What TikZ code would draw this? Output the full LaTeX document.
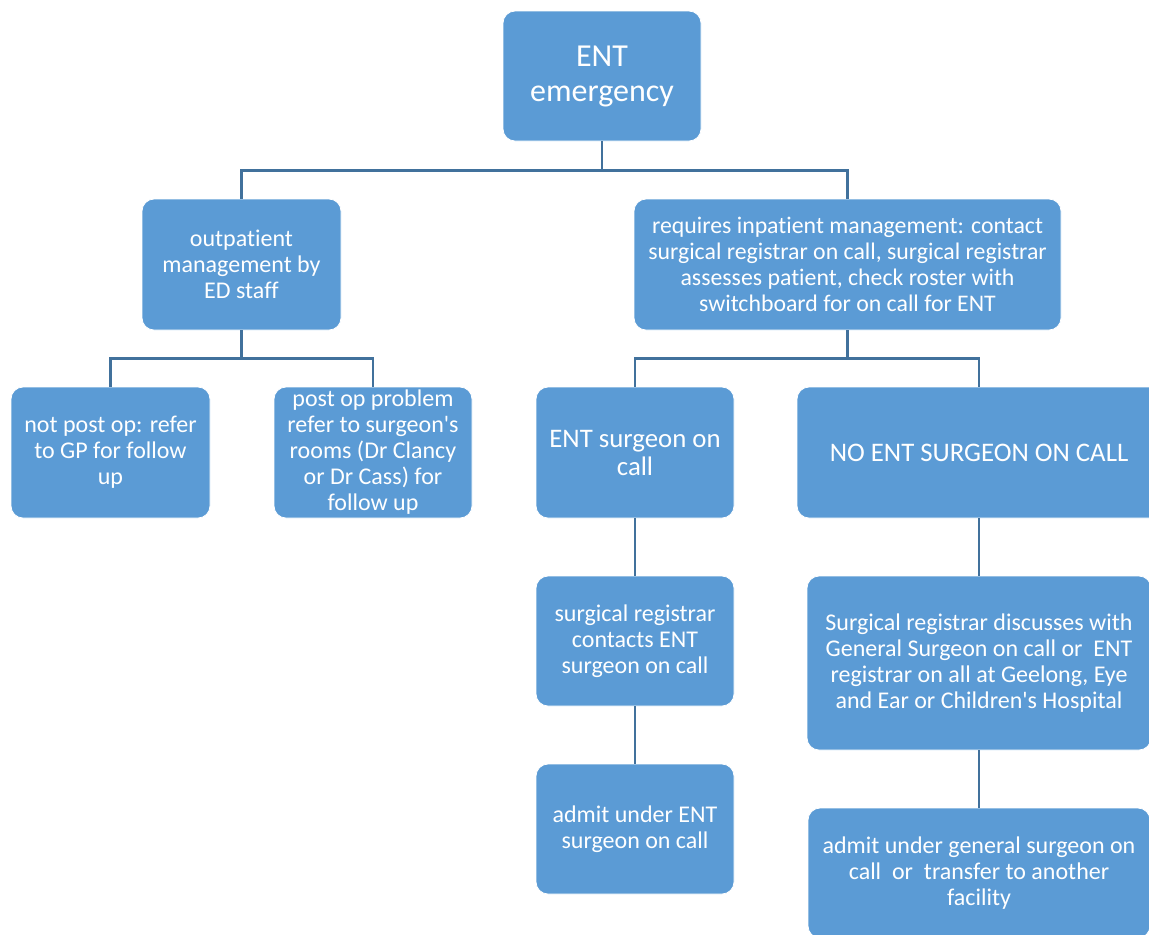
\documentclass[tikz,border=0pt]{standalone}
\usepackage{fontspec}
\setmainfont{Carlito}[Ligatures=NoCommon]
\usetikzlibrary{positioning}
\definecolor{boxblue}{HTML}{5B9BD5}
\definecolor{linkblue}{HTML}{41719C}

\begin{document}
\begin{tikzpicture}[x=0.5pt,y=-0.5pt,semithick]
  \tikzstyle{box}=[rectangle,rounded corners=6pt,fill=boxblue,draw=white,line width=0.4pt,
                   text=white,align=center,inner sep=0pt,font=\fontsize{12}{13}\selectfont]
  \tikzstyle{big}=[font=\fontsize{13.4}{14}\selectfont]
  \tikzstyle{link}=[draw=linkblue,line width=1.4pt]
  \useasboundingbox (0,0) rectangle (1149,934);

  \node[box,minimum width=99pt,minimum height=65pt,font=\fontsize{16}{17.5}\selectfont] (ent) at (602,76) {ENT\\emergency};
  \node[box,minimum width=99.5pt,minimum height=65.5pt] (out) at (241.5,264.5) {outpatient\\management by\\ED staff};
  \node[box,minimum width=213.5pt,minimum height=65.5pt,font=\fontsize{11.9}{13}\selectfont] (inp) at (847.5,264.5)
       {requires inpatient management: contact\\surgical registrar on call, surgical registrar\\assesses patient, check roster with\\switchboard for on call for ENT};

  \node[box,minimum width=99.5pt,minimum height=65.5pt] (gp) at (110.5,452.5) {not post op: refer\\to GP for follow\\up};
  \node[box,minimum width=99pt,minimum height=65.5pt] (postop) at (373,452.5)
       {post op problem\\refer to surgeon\textquotesingle s\\rooms (Dr Clancy\\or Dr Cass) for\\follow up};
  \node[box,big,minimum width=99pt,minimum height=65.5pt] (surg) at (635,452.5) {ENT surgeon on\\call};
  \node[box,big,minimum width=182pt,minimum height=65.5pt] (nosurg) at (979,452.5) {NO ENT SURGEON ON CALL};

  \node[box,minimum width=99pt,minimum height=65pt] (contact) at (635,641) {surgical registrar\\contacts ENT\\surgeon on call};
  \node[box,minimum width=172pt,minimum height=87pt] (discuss) at (979,663)
       {Surgical registrar discusses with\\General Surgeon on call or\ \ ENT\\registrar on all at Geelong, Eye\\and Ear or Children\textquotesingle s Hospital};

  \node[box,minimum width=99pt,minimum height=65pt] (admitent) at (635,829) {admit under ENT\\surgeon on call};
  \node[box,minimum width=171pt,minimum height=65pt] (admitgen) at (979,873)
       {admit under general surgeon on\\call\ \ or\ \ transfer to another\\facility};

  % tree links
  \path[link] (ent.south) -- ++(0,29) -| (out.north)
              (ent.south) -- ++(0,29) -| (inp.north);
  \path[link] (out.south) -- ++(0,28) -| (gp.north)
              (out.south) -- ++(0,28) -| (postop.north);
  \path[link] (inp.south) -- ++(0,28) -| (surg.north)
              (inp.south) -- ++(0,28) -| (nosurg.north);
  \path[link] (surg) -- (contact)
              (contact) -- (admitent)
              (nosurg) -- (discuss)
              (discuss) -- (admitgen);

\end{tikzpicture}
\end{document}
